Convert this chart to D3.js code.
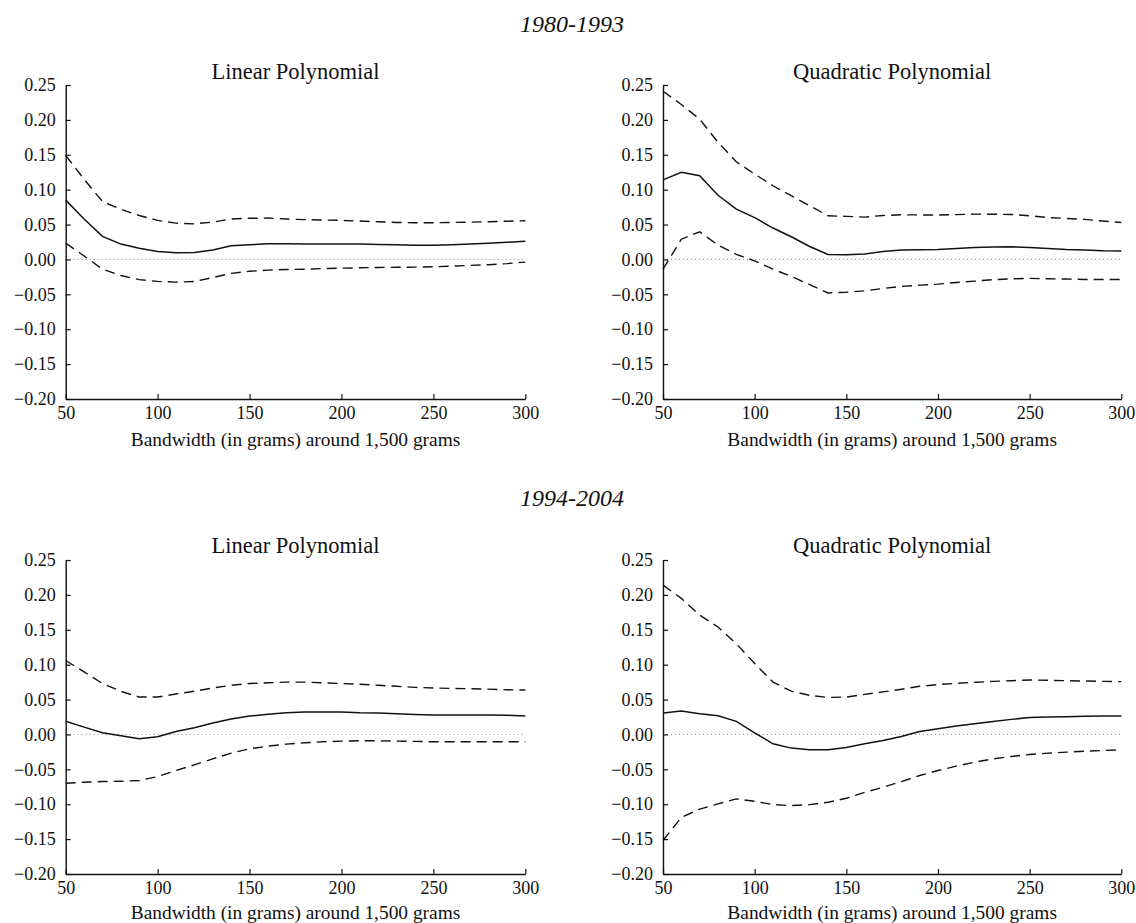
<!DOCTYPE html>
<html>
<head>
<meta charset="utf-8">
<script src="https://cdn.jsdelivr.net/npm/d3@7"></script>
<style>
  html, body { margin: 0; padding: 0; background: #fff; }
  svg { display: block; }
  text { font-family: "Liberation Serif", "DejaVu Serif", serif; fill: #111; }
</style>
</head>
<body>
<svg id="chart" width="1136" height="923"></svg>
<script>
// Bandwidth grid (grams around the 1,500 g cutoff)
const bandwidths = [50, 60, 70, 80, 90, 100, 110, 120, 130, 140, 150, 160, 170, 180, 190, 200, 210, 220, 230, 240, 250, 260, 270, 280, 290, 300];

const periods = ["1980-1993", "1994-2004"];
const specs = ["Linear Polynomial", "Quadratic Polynomial"];
const yTicks = [0.25, 0.20, 0.15, 0.10, 0.05, 0.00, -0.05, -0.10, -0.15, -0.20];
const xTicks = [50, 100, 150, 200, 250, 300];
const xLabel = "Bandwidth (in grams) around 1,500 grams";

// 1980-1993, linear polynomial: estimate and 95% bounds
const lin8093Est = [0.085, 0.058, 0.033, 0.022, 0.016, 0.0115, 0.0096, 0.010, 0.0134, 0.0196, 0.021, 0.0225, 0.0225, 0.0222, 0.0222, 0.0222, 0.0220, 0.0215, 0.0210, 0.0205, 0.0205, 0.0210, 0.0220, 0.0232, 0.0245, 0.026];
const lin8093Hi  = [0.149, 0.115, 0.083, 0.072, 0.063, 0.056, 0.052, 0.051, 0.0535, 0.058, 0.059, 0.0593, 0.058, 0.057, 0.0565, 0.056, 0.055, 0.054, 0.053, 0.0526, 0.0526, 0.053, 0.0535, 0.054, 0.0548, 0.0555];
const lin8093Lo  = [0.0234, 0.005, -0.014, -0.023, -0.029, -0.0315, -0.0325, -0.0315, -0.026, -0.020, -0.017, -0.0153, -0.0145, -0.014, -0.013, -0.0124, -0.012, -0.0115, -0.0112, -0.011, -0.0105, -0.0096, -0.0086, -0.0076, -0.006, -0.0038];

// 1980-1993, quadratic polynomial
const quad8093Est = [0.114, 0.125, 0.120, 0.092, 0.072, 0.060, 0.045, 0.0325, 0.0186, 0.0072, 0.0067, 0.0077, 0.0115, 0.0134, 0.0139, 0.0143, 0.0158, 0.0172, 0.0177, 0.0182, 0.0172, 0.0158, 0.0143, 0.0134, 0.0124, 0.012];
const quad8093Hi  = [0.241, 0.222, 0.201, 0.168, 0.140, 0.1224, 0.1056, 0.0913, 0.077, 0.0626, 0.0617, 0.0607, 0.063, 0.064, 0.0638, 0.0636, 0.0643, 0.065, 0.0648, 0.0645, 0.0626, 0.060, 0.0588, 0.0574, 0.055, 0.053];
const quad8093Lo  = [-0.014, 0.029, 0.0397, 0.0206, 0.0072, -0.002, -0.014, -0.0244, -0.036, -0.048, -0.047, -0.045, -0.0416, -0.0387, -0.0368, -0.0354, -0.033, -0.031, -0.029, -0.0277, -0.0272, -0.0277, -0.028, -0.0287, -0.0287, -0.0287];

// 1994-2004, linear polynomial
const lin9404Est = [0.019, 0.0105, 0.0024, -0.002, -0.0062, -0.0034, 0.0043, 0.0096, 0.0163, 0.022, 0.0263, 0.029, 0.031, 0.032, 0.032, 0.032, 0.031, 0.0307, 0.0297, 0.0287, 0.0278, 0.0278, 0.0278, 0.0278, 0.0275, 0.0263];
const lin9404Hi  = [0.106, 0.0896, 0.073, 0.0618, 0.0536, 0.0536, 0.058, 0.062, 0.0666, 0.0704, 0.073, 0.074, 0.075, 0.075, 0.074, 0.073, 0.072, 0.0704, 0.069, 0.0675, 0.0666, 0.066, 0.0656, 0.065, 0.064, 0.0637];
const lin9404Lo  = [-0.070, -0.0685, -0.0675, -0.067, -0.066, -0.0604, -0.0517, -0.0436, -0.035, -0.0268, -0.0206, -0.0168, -0.0139, -0.012, -0.0105, -0.0096, -0.0091, -0.0091, -0.0096, -0.010, -0.0105, -0.0105, -0.0105, -0.0105, -0.0105, -0.0105];

// 1994-2004, quadratic polynomial
const quad9404Est = [0.0307, 0.0335, 0.0297, 0.0268, 0.0187, 0.0024, -0.0134, -0.0196, -0.022, -0.022, -0.0187, -0.0134, -0.0086, -0.0029, 0.0043, 0.0081, 0.012, 0.0153, 0.0187, 0.0216, 0.0244, 0.025, 0.0254, 0.0259, 0.0263, 0.0263];
const quad9404Hi  = [0.214, 0.195, 0.171, 0.154, 0.130, 0.1016, 0.075, 0.062, 0.056, 0.053, 0.0536, 0.0575, 0.061, 0.0647, 0.069, 0.0714, 0.0733, 0.0747, 0.076, 0.077, 0.078, 0.0776, 0.077, 0.0766, 0.076, 0.0757];
const quad9404Lo  = [-0.152, -0.119, -0.107, -0.0996, -0.0924, -0.0958, -0.1006, -0.102, -0.1006, -0.0972, -0.0915, -0.0829, -0.0757, -0.0675, -0.0589, -0.0517, -0.0455, -0.0398, -0.035, -0.0316, -0.0287, -0.0268, -0.0254, -0.024, -0.023, -0.022];

// Panel list: row = period, col = polynomial order
const panels = [
  { row: 0, col: 0, est: lin8093Est,  hi: lin8093Hi,  lo: lin8093Lo },
  { row: 0, col: 1, est: quad8093Est, hi: quad8093Hi, lo: quad8093Lo },
  { row: 1, col: 0, est: lin9404Est,  hi: lin9404Hi,  lo: lin9404Lo },
  { row: 1, col: 1, est: quad9404Est, hi: quad9404Hi, lo: quad9404Lo }
];

const svg = d3.select("#chart");

// Plot-area geometry
const colX = [[65.7, 525.3], [663, 1121.3]];
const rowY = [[85, 399], [560, 874]];
const periodLabelY = [32, 506];
const titleY = [79, 553];
const xLabelY = [446, 919];

periods.forEach((p, r) => {
  svg.append("text")
    .attr("x", 572)
    .attr("y", periodLabelY[r])
    .attr("text-anchor", "middle")
    .style("font-style", "italic")
    .style("font-size", "24px")
    .text(p);
});

const fmt = d3.format(".2f");

panels.forEach(pn => {
  const [x0, x1] = colX[pn.col];
  const [y0, y1] = rowY[pn.row];
  const x = d3.scaleLinear().domain([50, 300]).range([x0, x1]);
  const y = d3.scaleLinear().domain([-0.20, 0.25]).range([y1, y0]);
  const g = svg.append("g");

  // zero reference line
  g.append("line")
    .attr("x1", x(50)).attr("x2", x(300))
    .attr("y1", y(0)).attr("y2", y(0))
    .attr("stroke", "#8a8a8a")
    .attr("stroke-width", 1)
    .attr("stroke-dasharray", "1,3");

  const line = d3.line()
    .x((d, i) => x(bandwidths[i]))
    .y(d => y(d));

  [pn.hi, pn.lo].forEach(s => {
    g.append("path")
      .datum(s)
      .attr("d", line)
      .attr("fill", "none")
      .attr("stroke", "#111")
      .attr("stroke-width", 1.4)
      .attr("stroke-dasharray", "10,6");
  });

  g.append("path")
    .datum(pn.est)
    .attr("d", line)
    .attr("fill", "none")
    .attr("stroke", "#111")
    .attr("stroke-width", 1.5);

  // axes with inward ticks
  const ya = g.append("g")
    .attr("transform", `translate(${x0},0)`)
    .call(d3.axisLeft(y).tickValues(yTicks).tickFormat(fmt)
      .tickSizeInner(-5).tickSizeOuter(0).tickPadding(10));
  const xa = g.append("g")
    .attr("transform", `translate(0,${y1})`)
    .call(d3.axisBottom(x).tickValues(xTicks).tickFormat(d3.format("d"))
      .tickSizeInner(-5).tickSizeOuter(0).tickPadding(7));

  [ya, xa].forEach(a => {
    a.select(".domain").attr("stroke", "#111").attr("stroke-width", 1.4);
    a.selectAll(".tick line").attr("stroke", "#111").attr("stroke-width", 1.2);
    a.selectAll(".tick text")
      .style("font-family", "'Liberation Serif', 'DejaVu Serif', serif")
      .style("font-size", "18px")
      .attr("fill", "#111");
  });

  g.append("text")
    .attr("x", (x0 + x1) / 2)
    .attr("y", titleY[pn.row])
    .attr("text-anchor", "middle")
    .style("font-size", "22.5px")
    .text(specs[pn.col]);

  g.append("text")
    .attr("x", (x0 + x1) / 2)
    .attr("y", xLabelY[pn.row])
    .attr("text-anchor", "middle")
    .style("font-size", "19.4px")
    .text(xLabel);
});
</script>
</body>
</html>
